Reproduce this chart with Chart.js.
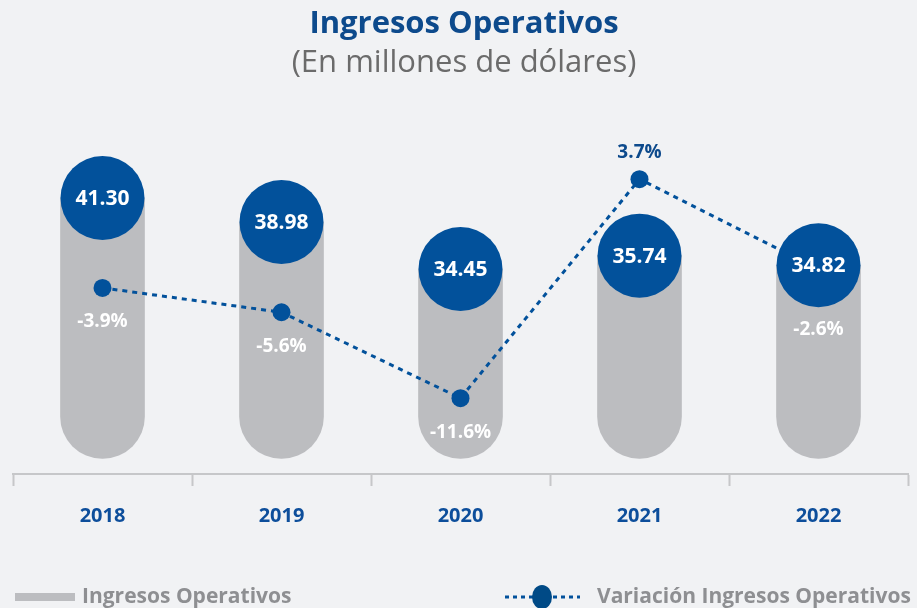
<!DOCTYPE html>
<html>
<head>
<meta charset="utf-8">
<script src="https://cdn.jsdelivr.net/npm/chart.js@4"></script>
<style>
  html, body { margin: 0; padding: 0; background: #F1F2F4; }
  #wrap { width: 917px; height: 608px; }
</style>
</head>
<body>
<div id="wrap"><canvas id="chart"></canvas></div>
<script>
// datos
const years = ['2018', '2019', '2020', '2021', '2022'];
const ingresos = [41.30, 38.98, 34.45, 35.74, 34.82];
const variacion = [-3.9, -5.6, -11.6, 3.7, -2.6];

// colores
const azul = '#02519B';
const azulTexto = '#0D4A8C';
const gris = '#BCBDC0';
const FONT = '"Open Sans", sans-serif';

// circulos con valores encima de las barras + etiquetas de la linea
const circlesPlugin = {
    id: 'circles',
    afterDatasetsDraw(chart) {
        const ctx = chart.ctx;
        const barMeta = chart.getDatasetMeta(0);
        const lineMeta = chart.getDatasetMeta(1);
        ctx.save();
        barMeta.data.forEach((bar, i) => {
            ctx.beginPath();
            ctx.arc(bar.x, bar.y, 42, 0, Math.PI * 2);
            ctx.fillStyle = azul;
            ctx.fill();
            ctx.fillStyle = '#ffffff';
            ctx.font = 'bold 21px ' + FONT;
            ctx.textAlign = 'center';
            ctx.textBaseline = 'middle';
            ctx.fillText(ingresos[i].toFixed(2), bar.x, bar.y + 1);
        });
        ctx.font = 'bold 19px ' + FONT;
        lineMeta.data.forEach((p, i) => {
            const v = variacion[i];
            const txt = v.toFixed(1) + '%';
            if (v >= 0) {
                ctx.fillStyle = azulTexto;
                ctx.fillText(txt, p.x, p.y - 27);
            } else {
                // que no quede tapada por el circulo
                const bar = barMeta.data[i];
                const y = Math.max(p.y + 34, bar.y + 42 + 22);
                ctx.fillStyle = '#ffffff';
                ctx.fillText(txt, p.x, y);
            }
        });
        ctx.restore();
    }
};

// leyenda dibujada a mano
const legendPlugin = {
    id: 'customLegend',
    afterDraw(chart) {
        const ctx = chart.ctx;
        const y = 597;
        ctx.save();
        ctx.fillStyle = gris;
        ctx.fillRect(15, y - 4, 60, 8);
        ctx.font = 'bold 21px ' + FONT;
        ctx.textBaseline = 'middle';
        ctx.textAlign = 'left';
        ctx.fillStyle = '#8E8F92';
        ctx.fillText(chart.data.datasets[0].label, 82, y);

        ctx.strokeStyle = azul;
        ctx.lineWidth = 3;
        ctx.setLineDash([4, 4]);
        ctx.beginPath();
        ctx.moveTo(505, y);
        ctx.lineTo(580, y);
        ctx.stroke();
        ctx.setLineDash([]);
        ctx.beginPath();
        ctx.ellipse(542, y, 10, 12, 0, 0, Math.PI * 2);
        ctx.fillStyle = '#004A86';
        ctx.fill();
        ctx.fillStyle = '#8E8F92';
        ctx.fillText(chart.data.datasets[1].label, 597, y);
        ctx.restore();
    }
};

const ctx = document.getElementById('chart').getContext('2d');
new Chart(ctx, {
    data: {
        labels: years,
        datasets: [
            {
                type: 'bar',
                label: 'Ingresos Operativos',
                data: ingresos,
                backgroundColor: gris,
                base: 16.2,
                barThickness: 84,
                borderRadius: { topLeft: 0, topRight: 0, bottomLeft: 42, bottomRight: 42 },
                borderSkipped: false,
                yAxisID: 'y',
                order: 2
            },
            {
                type: 'line',
                label: 'Variación Ingresos Operativos',
                data: variacion,
                borderColor: azul,
                borderWidth: 3,
                borderDash: [5, 5],
                pointRadius: 9,
                pointHoverRadius: 9,
                pointBackgroundColor: azul,
                pointBorderWidth: 0,
                tension: 0,
                yAxisID: 'y1',
                order: 1
            }
        ]
    },
    options: {
        responsive: true,
        maintainAspectRatio: false,
        animation: false,
        layout: { padding: { top: 6, left: 13, right: 2, bottom: 62 } },
        plugins: {
            legend: { display: false },
            tooltip: { enabled: false },
            title: {
                display: true,
                text: 'Ingresos Operativos',
                color: azulTexto,
                font: { family: FONT, size: 31, weight: 'bold', lineHeight: 1.2 },
                padding: { top: 0, bottom: 0 }
            },
            subtitle: {
                display: true,
                text: '(En millones de dólares)',
                color: '#6B6B6B',
                font: { family: FONT, size: 31, weight: 'normal', lineHeight: 1.2 },
                padding: { top: 1, bottom: 19 }
            }
        },
        scales: {
            x: {
                offset: true,
                grid: {
                    offset: true,
                    drawOnChartArea: false,
                    tickLength: 12,
                    tickColor: '#C6C7C9',
                    tickWidth: 2
                },
                border: { color: '#C6C7C9', width: 2 },
                ticks: {
                    color: '#0D4E9B',
                    padding: 18,
                    font: { family: FONT, size: 20, weight: 'bold' }
                }
            },
            y: {
                display: false,
                min: 14.7,
                max: 50.7
            },
            y1: {
                display: false,
                min: -16.9,
                max: 9.2
            }
        }
    },
    plugins: [circlesPlugin, legendPlugin]
});
</script>
</body>
</html>
